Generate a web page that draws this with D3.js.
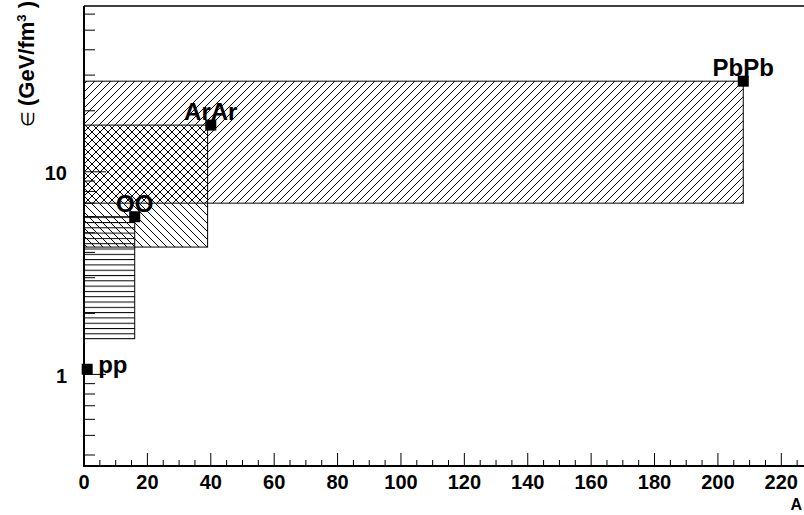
<!DOCTYPE html>
<html><head><meta charset="utf-8">
<script src="https://cdn.jsdelivr.net/npm/d3@7"></script>
<style>
body{margin:0;background:#fff;}
svg text{font-family:"Liberation Sans",Arial,Helvetica,sans-serif;font-weight:bold;}
</style></head>
<body><svg id="c" width="804" height="515"></svg>
<script>
// ---- data ----
const systems = ["pp", "OO", "ArAr", "PbPb"];
const massA = [1, 16, 40, 208];
const energyDensity = [1.06, 6, 17, 28];
// hatched bands (drawn in this order)
const bandNames = ["PbPb", "ArAr", "OO"];
const bandAmax = [208, 39, 16];
const bandLow = [7, 4.25, 1.5];
const bandHigh = [28, 17, 6];
const bandPattern = ["fwd", "back", "horiz"];
const xTickValues = [0,20,40,60,80,100,120,140,160,180,200,220];
const yTickLabels = [1, 10];
const yMinorValues = [0.4,0.5,0.6,0.7,0.8,0.9,2,3,4,5,6,7,8,9,20,30,40,50,60];

// ---- scales ----
const svg = d3.select("#c");
const x = d3.scaleLinear().domain([0, 230]).range([84, 813]);
const y = d3.scaleLog().domain([0.353, 65.8]).range([466, 6]);

// ---- patterns ----
const defs = svg.append("defs");
const pf = defs.append("pattern").attr("id","fwd").attr("patternUnits","userSpaceOnUse")
  .attr("width",8).attr("height",8);
pf.append("path").attr("d","M-2,2 L2,-2 M0,8 L8,0 M6,10 L10,6").attr("stroke","#000").attr("stroke-width",1);
const pb = defs.append("pattern").attr("id","back").attr("patternUnits","userSpaceOnUse")
  .attr("width",8).attr("height",8);
pb.append("path").attr("d","M-2,6 L2,10 M0,0 L8,8 M6,-2 L10,2").attr("stroke","#000").attr("stroke-width",1);
const ph = defs.append("pattern").attr("id","horiz").attr("patternUnits","userSpaceOnUse")
  .attr("width",8).attr("height",5.3).attr("y", y(6));
ph.append("line").attr("x1",0).attr("x2",8).attr("y1",0.5).attr("y2",0.5).attr("stroke","#000").attr("stroke-width",1);

// ---- bands ----
const bands = bandNames.map((n,i)=>({n, a:bandAmax[i], lo:bandLow[i], hi:bandHigh[i], p:bandPattern[i]}));
svg.append("g").selectAll("rect").data(bands).join("rect")
  .attr("x", x(0)).attr("y", d=>y(d.hi))
  .attr("width", d=>x(d.a)-x(0)).attr("height", d=>y(d.lo)-y(d.hi))
  .attr("fill", d=>"url(#"+d.p+")").attr("stroke","#000").attr("stroke-width",1);

// ---- axes ----
const xAxis = svg.append("g");
const xMinor = d3.range(0, 231, 5);
xAxis.selectAll("line.mi").data(xMinor).join("line")
  .attr("x1",d=>x(d)).attr("x2",d=>x(d))
  .attr("y1",466).attr("y2",d=> d%20===0 ? 453 : 460)
  .attr("stroke","#000").attr("stroke-width",1);
xAxis.selectAll("text").data(xTickValues).join("text")
  .attr("x",d=>x(d)).attr("y",488.5).attr("text-anchor","middle")
  .attr("font-size",20).text(d=>d);

const yAxis = svg.append("g");
yAxis.selectAll("line.mi").data(yMinorValues).join("line")
  .attr("x1",84).attr("x2",95).attr("y1",d=>y(d)).attr("y2",d=>y(d))
  .attr("stroke","#000").attr("stroke-width",1);
yAxis.selectAll("line.ma").data(yTickLabels).join("line")
  .attr("x1",84).attr("x2",106).attr("y1",d=>y(d)).attr("y2",d=>y(d))
  .attr("stroke","#000").attr("stroke-width",1);
yAxis.selectAll("text").data(yTickLabels).join("text")
  .attr("x",67).attr("y",d=>y(d)+8.5).attr("text-anchor","end")
  .attr("font-size",20).text(d=>d);

// frame
svg.append("line").attr("x1",84).attr("x2",804).attr("y1",6).attr("y2",6).attr("stroke","#000").attr("stroke-width",1.5);
svg.append("line").attr("x1",84).attr("x2",84).attr("y1",6).attr("y2",466).attr("stroke","#000").attr("stroke-width",2);
svg.append("line").attr("x1",83).attr("x2",804).attr("y1",466).attr("y2",466).attr("stroke","#000").attr("stroke-width",2);

// axis titles
const yt = svg.append("text").attr("transform","translate(34,1) rotate(-90)")
  .attr("text-anchor","end").attr("font-size",22);
yt.append("tspan").attr("font-weight","normal").attr("font-size",18).text("\u2208 ");
yt.append("tspan").text(" (GeV/fm");
yt.append("tspan").attr("font-size",13).attr("dy",-8).text("3");
yt.append("tspan").attr("dy",8).text(" )");
svg.append("text").attr("x",802).attr("y",510).attr("text-anchor","end").attr("font-size",16).text("A");

// ---- markers and labels ----
const pts = systems.map((s,i)=>({s, a:massA[i], e:energyDensity[i]}));
svg.append("g").selectAll("rect").data(pts).join("rect")
  .attr("x",d=>x(d.a)-5.5).attr("y",d=>y(d.e)-5.5).attr("width",11).attr("height",11).attr("fill","#000");
svg.append("g").selectAll("text").data(pts).join("text")
  .attr("x",d=> d.s==="pp" ? x(d.a)+11 : x(d.a))
  .attr("y",d=> d.s==="pp" ? y(d.e)+4 : y(d.e)-5)
  .attr("text-anchor",d=> d.s==="pp" ? "start" : "middle")
  .attr("font-size",24).text(d=>d.s);
</script></body></html>
